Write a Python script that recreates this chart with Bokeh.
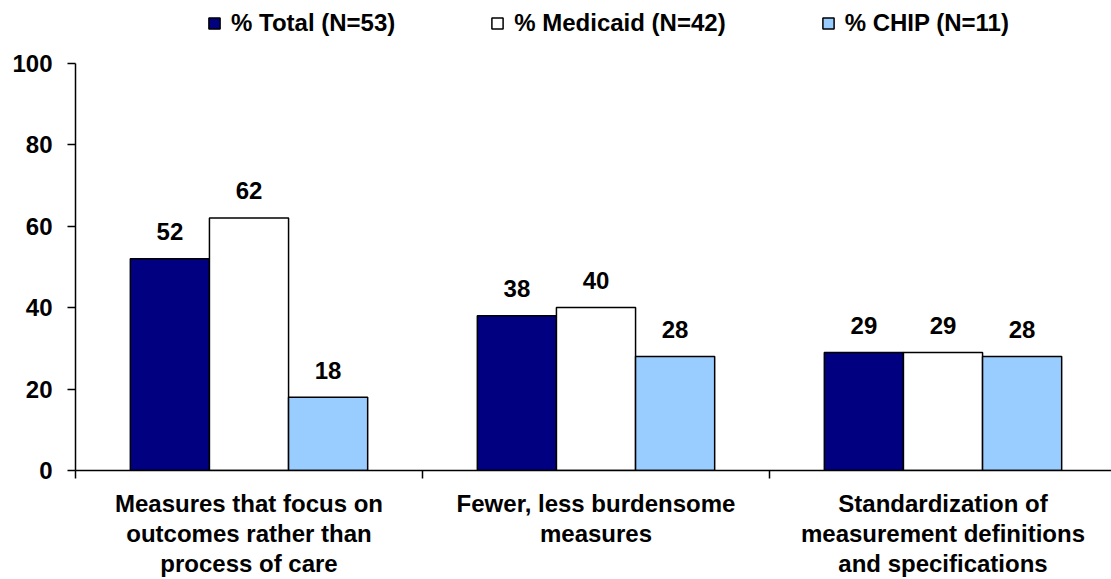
from bokeh.plotting import figure
from bokeh.models import Range1d, FixedTicker, Legend, LegendItem, ColumnDataSource
from bokeh.transform import dodge
from bokeh.core.properties import value
from bokeh.embed import file_html
from bokeh.resources import INLINE

categories = [
    "Measures that focus on\noutcomes rather than\nprocess of care",
    "Fewer, less burdensome\nmeasures",
    "Standardization of\nmeasurement definitions\nand specifications",
]
series_names = ["% Total (N=53)", "% Medicaid (N=42)", "% CHIP (N=11)"]
total = [52, 38, 29]
medicaid = [62, 40, 29]
chip = [18, 28, 28]
y_ticks = [0, 20, 40, 60, 80, 100]

colors = ["#000080", "#FFFFFF", "#99CCFF"]
FONT = "Liberation Sans"
FS = "24px"

xs = [i + 0.5 for i in range(len(categories))]
src = ColumnDataSource(dict(
    x=xs,
    total=total, medicaid=medicaid, chip=chip,
    total_l=[str(v) for v in total],
    medicaid_l=[str(v) for v in medicaid],
    chip_l=[str(v) for v in chip],
))

# frame spans from the canvas top down to the x axis; axis line bounded to 0..100
p = figure(width=1111, height=579, output_backend="svg", toolbar_location=None,
           x_range=Range1d(0, 2.9856), y_range=Range1d(0, 100 * 472 / 409),
           min_border_left=75, min_border_right=0, min_border_top=0, min_border_bottom=107)
p.outline_line_color = None
p.grid.visible = False
p.background_fill_color = "white"
p.border_fill_color = "white"

bw = 0.228
offsets = [-bw, 0.0, bw]
keys = ["total", "medicaid", "chip"]
renderers = []
for k, off, c in zip(keys, offsets, colors):
    r = p.vbar(x=dodge("x", off), top=k, width=bw, bottom=0, source=src,
               fill_color=c, line_color="black", line_width=1.5)
    renderers.append(r)
    p.text(x=dodge("x", off), y=k, text=k + "_l", source=src,
           text_font=value(FONT), text_font_style="bold", text_font_size=FS,
           text_align="center", text_baseline="alphabetic", y_offset=-27, text_color="black")

# axes
xa = p.xaxis[0]
xa.ticker = FixedTicker(ticks=xs, minor_ticks=[0, 1, 2, 3])
xa.major_label_overrides = {x: lab for x, lab in zip(xs, categories)}
xa.major_tick_out = 0
xa.major_tick_in = 0
xa.minor_tick_out = 8
xa.minor_tick_in = 0
xa.minor_tick_line_color = "black"
xa.minor_tick_line_width = 1.5
xa.axis_line_color = "black"
xa.axis_line_width = 1.5
xa.major_label_text_font = FONT
xa.major_label_text_font_style = "bold"
xa.major_label_text_font_size = FS
xa.major_label_text_color = "black"
xa.major_label_text_line_height = 1.12
xa.major_label_standoff = 11

ya = p.yaxis[0]
ya.ticker = FixedTicker(ticks=y_ticks, minor_ticks=[])
ya.bounds = (0, 100)
ya.major_tick_out = 8
ya.major_tick_in = 0
ya.major_tick_line_color = "black"
ya.major_tick_line_width = 1.5
ya.axis_line_color = "black"
ya.axis_line_width = 1.5
ya.major_label_text_font = FONT
ya.major_label_text_font_style = "bold"
ya.major_label_text_font_size = FS
ya.major_label_text_color = "black"
ya.major_label_standoff = 15

legend = Legend(items=[LegendItem(label=n, renderers=[r]) for n, r in zip(series_names, renderers)],
                orientation="horizontal", location=(132, 433),
                label_text_font=FONT, label_text_font_style="bold", label_text_font_size=FS,
                label_text_color="black", glyph_width=14, glyph_height=14,
                label_standoff=10, spacing=95, padding=0, margin=0,
                border_line_color=None, background_fill_alpha=0)
p.add_layout(legend, "center")

open("out.html", "w").write(file_html(p, INLINE))
